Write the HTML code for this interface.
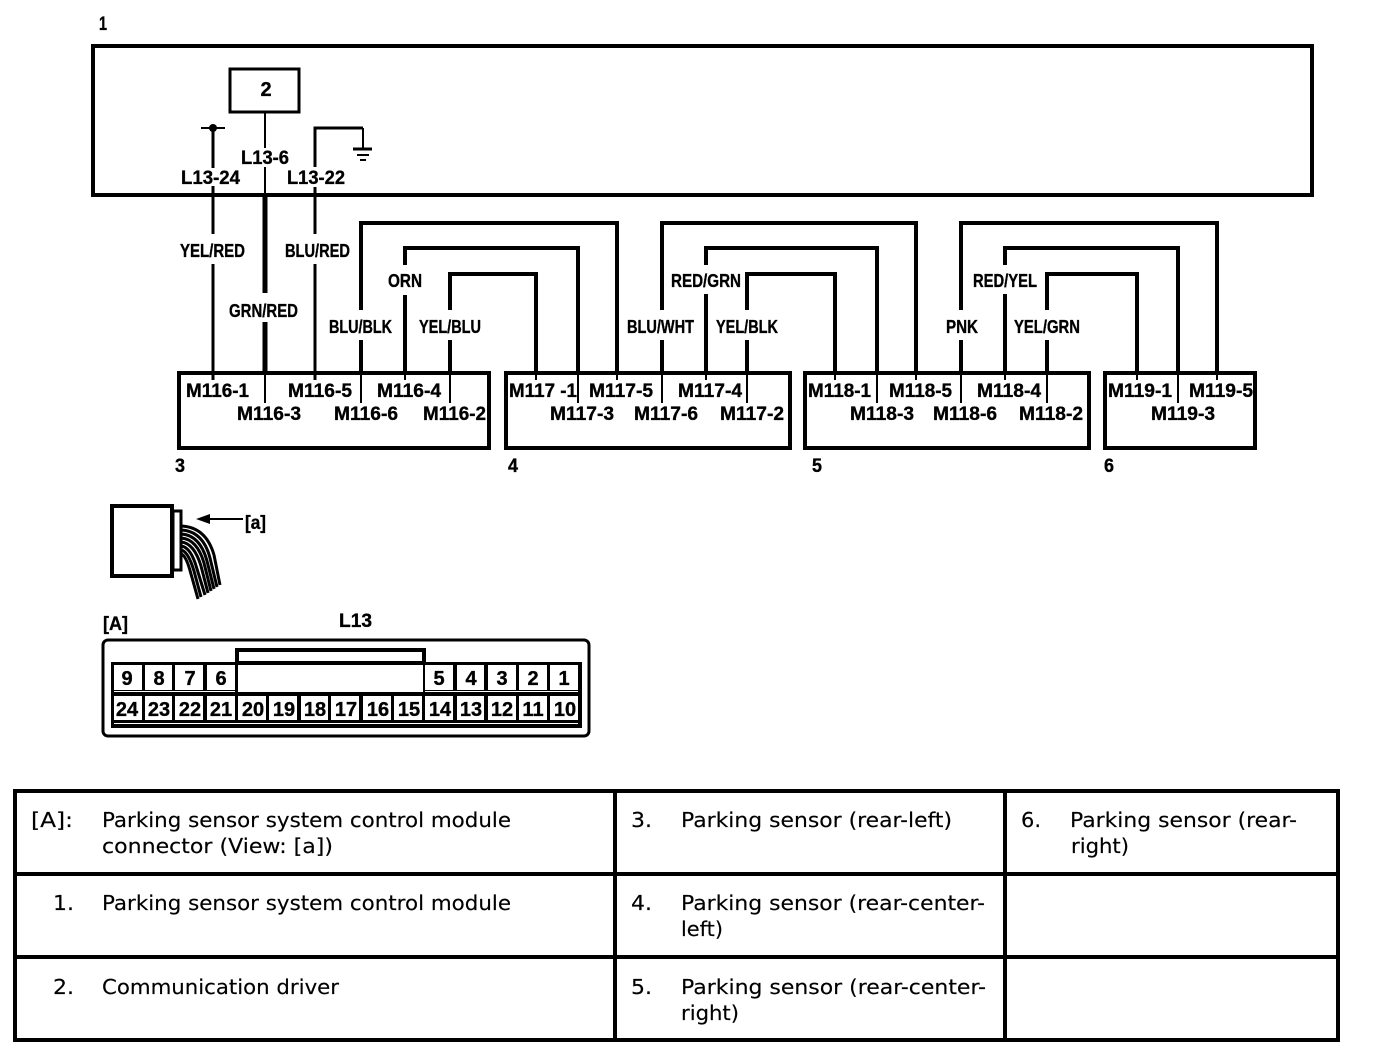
<!DOCTYPE html>
<html><head><meta charset="utf-8"><title>Parking sensor wiring diagram</title>
<style>
html,body{margin:0;padding:0;background:#fff;width:1376px;height:1058px;overflow:hidden}
svg{display:block}
.l{font:bold 19px "Liberation Sans",sans-serif;fill:#000;stroke:#000;stroke-width:.35}
.w{font:bold 18px "Liberation Sans",sans-serif;fill:#000;stroke:#000;stroke-width:.35}
.n{font:bold 20px "Liberation Sans",sans-serif;fill:#000;text-anchor:middle;stroke:#000;stroke-width:.35}
.t{font:20.5px "DejaVu Sans",sans-serif;fill:#000;stroke:#000;stroke-width:.15}
.s{fill:none;stroke:#000;shape-rendering:crispEdges}
</style></head><body>
<svg xmlns="http://www.w3.org/2000/svg" width="1376" height="1058" viewBox="0 0 1376 1058">
<rect width="1376" height="1058" fill="#fff"/>
<!-- Module -->
<rect class="s" x="93" y="46" width="1219" height="149" stroke-width="4"/>
<rect class="s" x="230" y="69" width="69" height="43" stroke-width="3"/>
<text class="n" x="266" y="96">2</text>
<text class="l" x="99" y="30" textLength="8" lengthAdjust="spacingAndGlyphs">1</text>
<!-- upper wires -->
<g class="s" stroke-width="3">
<path d="M213 128V168M213 186V234M213 264V380"/>
<path d="M315 167V128H363" />
<path d="M315 187V234M315 264V380"/>
</g>
<g class="s" stroke-width="2">
<path d="M201 128H225"/>
<path d="M363 128V149"/>
<path d="M265 112V148M265 167V195M265 372V403"/>
</g>
<circle cx="213" cy="128" r="4" fill="#000"/>
<g class="s"><path d="M353 149H372" stroke-width="3"/><path d="M357 155H369" stroke-width="2"/><path d="M360 160H366" stroke-width="2"/></g>
<path class="s" d="M265 195V293M265 322V372" stroke-width="5"/>
<!-- wire groups -->
<g class="s" stroke-width="4">
<path d="M361 310V223H617V372"/><path d="M361 340V372"/>
<path d="M405 265V248H578V372"/><path d="M405 295V372"/>
<path d="M450 310V274H536V372"/><path d="M450 340V372"/>
<path d="M662 310V223H916V372"/><path d="M662 340V372"/>
<path d="M706 265V248H877V372"/><path d="M706 294V372"/>
<path d="M747 310V274H835V372"/><path d="M747 340V372"/>
<path d="M961 310V223H1217V372"/><path d="M961 340V372"/>
<path d="M1005 265V248H1178V372"/><path d="M1005 294V372"/>
<path d="M1047 310V274H1137V372"/><path d="M1047 340V372"/>
</g>
<g class="s" stroke-width="2">
<path d="M361 372V403M405 372V380M450 372V403M536 372V380M578 372V403M617 372V380"/>
<path d="M662 372V403M706 372V380M747 372V403M835 372V380M877 372V403M916 372V380"/>
<path d="M961 372V403M1005 372V380M1047 372V403M1137 372V380M1178 372V403M1217 372V380"/>
</g>
<!-- sensor boxes -->
<g class="s" stroke-width="4">
<rect x="179" y="373" width="310" height="75"/>
<rect x="506" y="373" width="284" height="75"/>
<rect x="805" y="373" width="284" height="75"/>
<rect x="1105" y="373" width="150" height="75"/>
</g>
<!-- top labels -->
<text class="l" x="181" y="184" textLength="59" lengthAdjust="spacingAndGlyphs">L13-24</text>
<text class="l" x="241" y="164" textLength="48" lengthAdjust="spacingAndGlyphs">L13-6</text>
<text class="l" x="287" y="184" textLength="58" lengthAdjust="spacingAndGlyphs">L13-22</text>
<!-- wire labels -->
<g class="w">
<text x="180" y="257" textLength="65" lengthAdjust="spacingAndGlyphs">YEL/RED</text>
<text x="285" y="257" textLength="65" lengthAdjust="spacingAndGlyphs">BLU/RED</text>
<text x="229" y="317" textLength="69" lengthAdjust="spacingAndGlyphs">GRN/RED</text>
<text x="388" y="287" textLength="34" lengthAdjust="spacingAndGlyphs">ORN</text>
<text x="329" y="333" textLength="63" lengthAdjust="spacingAndGlyphs">BLU/BLK</text>
<text x="419" y="333" textLength="62" lengthAdjust="spacingAndGlyphs">YEL/BLU</text>
<text x="627" y="333" textLength="67" lengthAdjust="spacingAndGlyphs">BLU/WHT</text>
<text x="671" y="287" textLength="70" lengthAdjust="spacingAndGlyphs">RED/GRN</text>
<text x="716" y="333" textLength="62" lengthAdjust="spacingAndGlyphs">YEL/BLK</text>
<text x="946" y="333" textLength="32" lengthAdjust="spacingAndGlyphs">PNK</text>
<text x="973" y="287" textLength="64" lengthAdjust="spacingAndGlyphs">RED/YEL</text>
<text x="1014" y="333" textLength="66" lengthAdjust="spacingAndGlyphs">YEL/GRN</text>
</g>
<!-- pin labels -->
<g class="l">
<text x="186" y="397" textLength="63" lengthAdjust="spacingAndGlyphs">M116-1</text>
<text x="237" y="420" textLength="64" lengthAdjust="spacingAndGlyphs">M116-3</text>
<text x="288" y="397" textLength="64" lengthAdjust="spacingAndGlyphs">M116-5</text>
<text x="334" y="420" textLength="64" lengthAdjust="spacingAndGlyphs">M116-6</text>
<text x="377" y="397" textLength="64" lengthAdjust="spacingAndGlyphs">M116-4</text>
<text x="423" y="420" textLength="63" lengthAdjust="spacingAndGlyphs">M116-2</text>
<text x="509" y="397" textLength="68" lengthAdjust="spacingAndGlyphs">M117 -1</text>
<text x="550" y="420" textLength="64" lengthAdjust="spacingAndGlyphs">M117-3</text>
<text x="589" y="397" textLength="64" lengthAdjust="spacingAndGlyphs">M117-5</text>
<text x="634" y="420" textLength="64" lengthAdjust="spacingAndGlyphs">M117-6</text>
<text x="678" y="397" textLength="64" lengthAdjust="spacingAndGlyphs">M117-4</text>
<text x="720" y="420" textLength="64" lengthAdjust="spacingAndGlyphs">M117-2</text>
<text x="808" y="397" textLength="63" lengthAdjust="spacingAndGlyphs">M118-1</text>
<text x="850" y="420" textLength="64" lengthAdjust="spacingAndGlyphs">M118-3</text>
<text x="889" y="397" textLength="63" lengthAdjust="spacingAndGlyphs">M118-5</text>
<text x="933" y="420" textLength="64" lengthAdjust="spacingAndGlyphs">M118-6</text>
<text x="977" y="397" textLength="64" lengthAdjust="spacingAndGlyphs">M118-4</text>
<text x="1019" y="420" textLength="64" lengthAdjust="spacingAndGlyphs">M118-2</text>
<text x="1108" y="397" textLength="64" lengthAdjust="spacingAndGlyphs">M119-1</text>
<text x="1151" y="420" textLength="64" lengthAdjust="spacingAndGlyphs">M119-3</text>
<text x="1189" y="397" textLength="64" lengthAdjust="spacingAndGlyphs">M119-5</text>
<text x="175" y="472" textLength="10" lengthAdjust="spacingAndGlyphs">3</text>
<text x="508" y="472" textLength="10" lengthAdjust="spacingAndGlyphs">4</text>
<text x="812" y="472" textLength="10" lengthAdjust="spacingAndGlyphs">5</text>
<text x="1104" y="472" textLength="10" lengthAdjust="spacingAndGlyphs">6</text>
</g>
<!-- connector side view -->
<rect class="s" x="112" y="506" width="60" height="70" stroke-width="4"/>
<rect class="s" x="173" y="511" width="8" height="59" stroke-width="3"/>
<path class="s" d="M210 519H243" stroke-width="2"/>
<path d="M196 519L210 514V524Z" fill="#000"/>
<text class="l" x="245" y="529" textLength="21" lengthAdjust="spacingAndGlyphs">[a]</text>
<g fill="none" stroke="#000" stroke-width="3">
<path d="M181 526Q206 527 214 555L220 585"/>
<path d="M181 530Q203 531 210 558L217 587"/>
<path d="M181 534Q200 535 207 561L214 589"/>
<path d="M181 538Q197 539 204 563L211 591"/>
<path d="M181 542Q194 543 201 566L208 593"/>
<path d="M181 546Q191 547 197 569L205 595"/>
<path d="M181 550Q188 551 194 571L201 597"/>
<path d="M181 554Q186 555 191 574L198 599"/>
</g>
<!-- connector front view -->
<text class="l" x="103" y="630" textLength="25" lengthAdjust="spacingAndGlyphs">[A]</text>
<text class="l" x="339" y="627" textLength="33" lengthAdjust="spacingAndGlyphs">L13</text>
<rect x="103" y="640" width="486" height="96" rx="5" fill="#fff" stroke="#000" stroke-width="3"/>
<rect x="111" y="662" width="471" height="66" fill="#000"/>
<rect class="s" x="237" y="650" width="187" height="13" stroke-width="4" style="fill:#fff"/>
<g fill="#fff" shape-rendering="crispEdges">
<rect x="114" y="665" width="28" height="25"/><rect x="145" y="665" width="27" height="25"/><rect x="175" y="665" width="28" height="25"/><rect x="207" y="665" width="28" height="25"/>
<rect x="238" y="665" width="185" height="27"/>
<rect x="425" y="665" width="28" height="25"/><rect x="457" y="665" width="27" height="25"/><rect x="488" y="665" width="28" height="25"/><rect x="519" y="665" width="28" height="25"/><rect x="550" y="665" width="28" height="25"/>
<rect x="114" y="691" width="121" height="1"/><rect x="425" y="691" width="153" height="1"/>
<rect x="114" y="696" width="28" height="24"/><rect x="145" y="696" width="27" height="24"/><rect x="175" y="696" width="28" height="24"/><rect x="207" y="696" width="28" height="24"/>
<rect x="238" y="696" width="28" height="24"/><rect x="269" y="696" width="28" height="24"/><rect x="301" y="696" width="27" height="24"/><rect x="331" y="696" width="28" height="24"/><rect x="363" y="696" width="28" height="24"/><rect x="394" y="696" width="28" height="24"/>
<rect x="425" y="696" width="28" height="24"/><rect x="457" y="696" width="27" height="24"/><rect x="488" y="696" width="28" height="24"/><rect x="519" y="696" width="28" height="24"/><rect x="550" y="696" width="28" height="24"/>
<rect x="114" y="723" width="464" height="1"/>
</g>
<g class="n">
<text x="127" y="685">9</text><text x="159" y="685">8</text><text x="190" y="685">7</text><text x="221" y="685">6</text>
<text x="439" y="685">5</text><text x="471" y="685">4</text><text x="502" y="685">3</text><text x="533" y="685">2</text><text x="564" y="685">1</text>
<text x="127" y="716">24</text><text x="159" y="716">23</text><text x="190" y="716">22</text><text x="221" y="716">21</text><text x="253" y="716">20</text><text x="284" y="716">19</text><text x="315" y="716">18</text><text x="346" y="716">17</text><text x="378" y="716">16</text><text x="409" y="716">15</text><text x="440" y="716">14</text><text x="471" y="716">13</text><text x="502" y="716">12</text><text x="533" y="716">11</text><text x="565" y="716">10</text>
</g>
<!-- legend table -->
<g class="s" stroke-width="4">
<rect x="15" y="791" width="1323" height="249"/>
<path d="M15 874H1338M15 957H1338"/>
<path d="M615 791V1040M1005 791V1040"/>
</g>
<g class="t">
<text x="31" y="827" textLength="42" lengthAdjust="spacingAndGlyphs">[A]:</text>
<text x="102" y="827" textLength="409" lengthAdjust="spacingAndGlyphs">Parking sensor system control module</text>
<text x="102" y="853" textLength="231" lengthAdjust="spacingAndGlyphs">connector (View: [a])</text>
<text x="53" y="910" textLength="21" lengthAdjust="spacingAndGlyphs">1.</text>
<text x="102" y="910" textLength="409" lengthAdjust="spacingAndGlyphs">Parking sensor system control module</text>
<text x="53" y="994" textLength="21" lengthAdjust="spacingAndGlyphs">2.</text>
<text x="102" y="994" textLength="237" lengthAdjust="spacingAndGlyphs">Communication driver</text>
<text x="631" y="827" textLength="21" lengthAdjust="spacingAndGlyphs">3.</text>
<text x="681" y="827" textLength="271" lengthAdjust="spacingAndGlyphs">Parking sensor (rear-left)</text>
<text x="631" y="910" textLength="21" lengthAdjust="spacingAndGlyphs">4.</text>
<text x="681" y="910" textLength="304" lengthAdjust="spacingAndGlyphs">Parking sensor (rear-center-</text>
<text x="681" y="936" textLength="42" lengthAdjust="spacingAndGlyphs">left)</text>
<text x="631" y="994" textLength="21" lengthAdjust="spacingAndGlyphs">5.</text>
<text x="681" y="994" textLength="305" lengthAdjust="spacingAndGlyphs">Parking sensor (rear-center-</text>
<text x="681" y="1020" textLength="58" lengthAdjust="spacingAndGlyphs">right)</text>
<text x="1021" y="827" textLength="20" lengthAdjust="spacingAndGlyphs">6.</text>
<text x="1070" y="827" textLength="227" lengthAdjust="spacingAndGlyphs">Parking sensor (rear-</text>
<text x="1071" y="853" textLength="58" lengthAdjust="spacingAndGlyphs">right)</text>
</g>
</svg>
</body></html>
